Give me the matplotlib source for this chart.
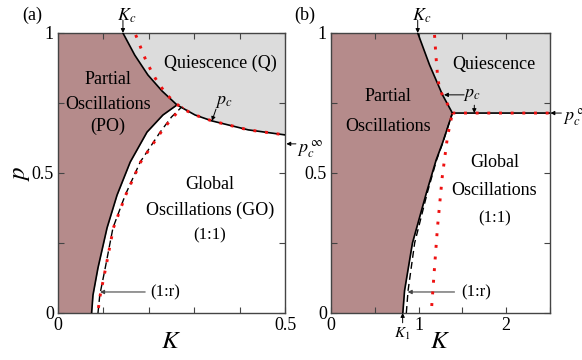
import matplotlib
matplotlib.use("Agg")
import matplotlib.pyplot as plt

plt.rcParams['font.family'] = ['Liberation Serif', 'DejaVu Serif']
plt.rcParams['mathtext.fontset'] = 'stix'

BROWN = '#b58b8b'
GRAY = '#dcdcdc'
SPINE = '#444444'

# ---------------- panel (a) data ----------------
# K_c / p_c boundary (upper), K increasing
Ka_up = [0.143, 0.169, 0.198, 0.229, 0.262, 0.302, 0.339, 0.419, 0.5]
pa_up = [1.0, 0.921, 0.85, 0.793, 0.743, 0.707, 0.686, 0.654, 0.636]
# PO / GO boundary (solid)
Ka_lo = [0.074, 0.077, 0.088, 0.108, 0.130, 0.159, 0.196, 0.231, 0.262]
pa_lo = [0.0, 0.064, 0.161, 0.304, 0.421, 0.539, 0.646, 0.707, 0.743]
# dashed boundary
Ka_da = [0.088, 0.092, 0.104, 0.121, 0.148, 0.181, 0.225, 0.25, 0.272]
pa_da = [0.0, 0.064, 0.161, 0.304, 0.421, 0.539, 0.646, 0.70, 0.735]
# red dotted (lower branch)
Ka_rl = [0.089, 0.093, 0.105, 0.122, 0.149, 0.182, 0.227, 0.253, 0.276]
pa_rl = [0.018, 0.064, 0.161, 0.304, 0.421, 0.539, 0.646, 0.70, 0.735]
# red dotted (upper branch)
Ka_ru = [0.171, 0.174, 0.185, 0.196, 0.214, 0.236, 0.258, 0.28, 0.302, 0.339, 0.419, 0.5]
pa_ru = [0.993, 0.982, 0.936, 0.893, 0.839, 0.786, 0.75, 0.725, 0.707, 0.686, 0.654, 0.636]

# ---------------- panel (b) data ----------------
Kb_up = [0.99, 1.125, 1.273, 1.386, 2.5]
pb_up = [1.0, 0.886, 0.779, 0.714, 0.714]
Kb_lo = [0.82, 0.84, 0.93, 1.09, 1.20, 1.273, 1.386]
pb_lo = [0.0, 0.08, 0.25, 0.43, 0.546, 0.607, 0.714]
Kb_da = [0.86, 0.88, 0.955, 1.10, 1.205, 1.275, 1.386]
pb_da = [0.0, 0.08, 0.25, 0.43, 0.546, 0.607, 0.714]
Kb_rl = [1.15, 1.18, 1.216, 1.27, 1.33, 1.386]
pb_rl = [0.025, 0.154, 0.307, 0.486, 0.63, 0.714]
Kb_ru = [1.182, 1.20, 1.216, 1.24, 1.273, 1.386, 2.5]
pb_ru = [0.993, 0.91, 0.85, 0.796, 0.779, 0.714, 0.714]

xticks_a = [0, 0.1, 0.2, 0.3, 0.4, 0.5]
xlabels_a = ['0', '', '', '', '', '0.5']
xticks_b = [0, 0.5, 1, 1.5, 2, 2.5]
xlabels_b = ['0', '', '1', '', '2', '']
yticks = [0, 0.25, 0.5, 0.75, 1]
ylabels = ['0', '', '0.5', '', '1']

fig = plt.figure(figsize=(5.82, 3.6), dpi=100)
ax1 = fig.add_axes([0.0997, 0.1306, 0.39, 0.7778])
ax2 = fig.add_axes([0.5687, 0.1306, 0.3763, 0.7778])

FS = 13
arrow = dict(arrowstyle='-|>', lw=0.7, color='black', mutation_scale=6, shrinkA=0, shrinkB=0)
thin_arrow = dict(arrowstyle='-|>', lw=0.8, color='#444444', mutation_scale=6, shrinkA=0, shrinkB=0)


def style(ax, xt, xl, xmax):
    ax.set_xlim(0, xmax)
    ax.set_ylim(0, 1)
    ax.set_xticks(xt)
    ax.set_xticklabels(xl)
    ax.set_yticks(yticks)
    ax.set_yticklabels(ylabels)
    ax.tick_params(direction='in', top=True, right=True, length=4, width=0.8,
                   colors=SPINE, labelcolor='black', labelsize=FS, pad=3)
    for s in ax.spines.values():
        s.set_color(SPINE)
        s.set_linewidth(1.0)
    ax.set_xlabel('$K$', fontsize=18, labelpad=-2)


def draw(ax, Kup, pup, Klo, plo, Kda, pda, Krl, prl, Kru, pru, xmax):
    # brown region: left of lower boundary, then left of K_c branch
    n_c = [i for i in range(len(Kup)) if pup[i] >= plo[-1]]
    Kc_branch = [Kup[i] for i in n_c][::-1]
    pc_branch = [pup[i] for i in n_c][::-1]
    Kb = list(Klo) + Kc_branch[1:]
    pb = list(plo) + pc_branch[1:]
    ax.fill_betweenx(pb, 0, Kb, color=BROWN, lw=0, zorder=1)
    ax.fill_between(Kup, pup, 1, color=GRAY, lw=0, zorder=1)
    ax.plot(Kup, pup, color='black', lw=1.2, zorder=3)
    ax.plot(Klo, plo, color='black', lw=1.2, zorder=3)
    ax.plot(Kda, pda, color='black', lw=1.0, ls=(0, (5, 3)), zorder=3)
    ax.plot(Krl, prl, color='#ee1111', lw=2.1, ls=(0, (1, 3.0)), zorder=4)
    ax.plot(Kru, pru, color='#ee1111', lw=2.1, ls=(0, (1, 3.0)), zorder=4)


draw(ax1, Ka_up, pa_up, Ka_lo, pa_lo, Ka_da, pa_da, Ka_rl, pa_rl, Ka_ru, pa_ru, 0.5)
draw(ax2, Kb_up, pb_up, Kb_lo, pb_lo, Kb_da, pb_da, Kb_rl, pb_rl, Kb_ru, pb_ru, 2.5)
style(ax1, xticks_a, xlabels_a, 0.5)
style(ax2, xticks_b, xlabels_b, 2.5)
ax1.set_ylabel('$p$', fontsize=18, labelpad=0)

# ---------- annotations (a) ----------
fig.text(32 / 582, 1 - 15 / 360, '(a)', ha='center', va='center', fontsize=FS)
ax1.annotate('', xy=(0.143, 1.0), xytext=(0.143, 1.045), arrowprops=arrow, annotation_clip=False)
ax1.text(0.152, 1.062, '$K_c$', ha='center', va='center', fontsize=FS, clip_on=False)
ax1.text(0.357, 0.893, 'Quiescence (Q)', ha='center', va='center', fontsize=FS)
ax1.text(0.11, 0.833, 'Partial', ha='center', va='center', fontsize=FS)
ax1.text(0.11, 0.745, 'Oscillations', ha='center', va='center', fontsize=FS)
ax1.text(0.11, 0.665, '(PO)', ha='center', va='center', fontsize=FS)
ax1.text(0.365, 0.755, '$p_c$', ha='center', va='center', fontsize=FS)
ax1.annotate('', xy=(0.339, 0.686), xytext=(0.348, 0.728), arrowprops=arrow)
ax1.annotate('', xy=(0.503, 0.604), xytext=(0.524, 0.604), arrowprops=arrow, annotation_clip=False)
ax1.text(0.527, 0.585, r'$p_c^{\,\infty}$', ha='left', va='center', fontsize=FS, clip_on=False)
ax1.text(0.335, 0.458, 'Global', ha='center', va='center', fontsize=FS)
ax1.text(0.335, 0.368, 'Oscillations (GO)', ha='center', va='center', fontsize=FS)
ax1.text(0.335, 0.278, '(1:1)', ha='center', va='center', fontsize=FS - 1)
ax1.annotate('', xy=(0.0925, 0.075), xytext=(0.192, 0.075), arrowprops=thin_arrow)
ax1.text(0.237, 0.075, '(1:r)', ha='center', va='center', fontsize=FS - 1)

# ---------- annotations (b) ----------
fig.text(305 / 582, 1 - 15 / 360, '(b)', ha='center', va='center', fontsize=FS)
ax2.annotate('', xy=(0.99, 1.0), xytext=(0.99, 1.045), arrowprops=arrow, annotation_clip=False)
ax2.text(1.04, 1.062, '$K_c$', ha='center', va='center', fontsize=FS, clip_on=False)
ax2.text(1.864, 0.886, 'Quiescence', ha='center', va='center', fontsize=FS)
ax2.text(0.65, 0.772, 'Partial', ha='center', va='center', fontsize=FS)
ax2.text(0.65, 0.665, 'Oscillations', ha='center', va='center', fontsize=FS)
ax2.annotate('', xy=(1.29, 0.779), xytext=(1.52, 0.779), arrowprops=arrow)
ax2.text(1.61, 0.779, '$p_c$', ha='center', va='center', fontsize=FS)
ax2.annotate('', xy=(1.636, 0.714), xytext=(1.636, 0.742), arrowprops=arrow)
ax2.annotate('', xy=(2.505, 0.714), xytext=(2.63, 0.714), arrowprops=arrow, annotation_clip=False)
ax2.text(2.65, 0.70, r'$p_c^{\,\infty}$', ha='left', va='center', fontsize=FS, clip_on=False)
ax2.text(1.864, 0.536, 'Global', ha='center', va='center', fontsize=FS)
ax2.text(1.864, 0.439, 'Oscillations', ha='center', va='center', fontsize=FS)
ax2.text(1.864, 0.339, '(1:1)', ha='center', va='center', fontsize=FS - 1)
ax2.annotate('', xy=(0.875, 0.075), xytext=(1.41, 0.075), arrowprops=thin_arrow)
ax2.text(1.66, 0.075, '(1:r)', ha='center', va='center', fontsize=FS - 1)
ax2.annotate('', xy=(0.818, 0.0), xytext=(0.818, -0.035), arrowprops=arrow, annotation_clip=False)
ax2.text(0.818, -0.075, '$K_1$', ha='center', va='center', fontsize=FS - 2, clip_on=False)

fig.savefig('out.png', dpi=100)
